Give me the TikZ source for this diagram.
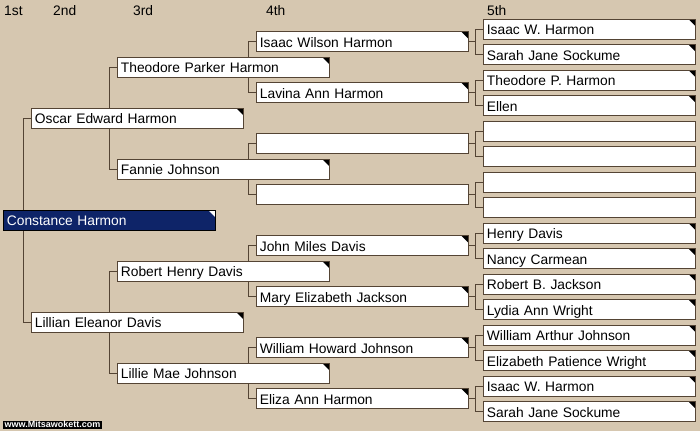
\documentclass[tikz,border=0pt]{standalone}
\usepackage{fontspec}
\setmainfont{Liberation Sans}
\definecolor{bgtan}{RGB}{214,199,176}
\definecolor{linkbrown}{RGB}{84,68,52}
\definecolor{selnavy}{RGB}{14,36,104}
\pgfdeclarelayer{back}
\pgfsetlayers{back,main}
\begin{document}
\begin{tikzpicture}[x=1pt, y=-1pt, font=\fontsize{13.8}{16}\selectfont,
  person/.style={draw=linkbrown, line width=0.8pt, fill=white, anchor=west, text width=205pt,
    inner xsep=3.5pt, inner ysep=3.5pt, text height=12pt, text depth=1pt, align=left},
  tagged/.style={person, path picture={\fill[#1] ([xshift=-7pt]path picture bounding box.north east)
    -- (path picture bounding box.north east) -- ([yshift=-7pt]path picture bounding box.north east) -- cycle;}},
  tagged/.default=black,
  link/.style={draw=linkbrown, line width=0.8pt},
  gen/.style={anchor=base west, inner sep=0pt}]
\useasboundingbox (0,0) rectangle (700,431);
\begin{pgfonlayer}{back}
\fill[bgtan] (0,0) rectangle (700,431);
\end{pgfonlayer}
% generation headings
\node[gen] (g1) at (4,15) {1st};
\node[gen] (g2) at (53,15) {2nd};
\node[gen] (g3) at (133,15) {3rd};
\node[gen] (g4) at (266,15) {4th};
\node[gen] (g5) at (487,15) {5th};
% 1st and 2nd
\node[tagged=white, fill=selnavy, text=white, draw=black] (p1) at (3,220.25) {Constance Harmon};
\node[tagged] (p2) at (31,118.25) {Oscar Edward Harmon};
\node[tagged] (p3) at (31,322.25) {Lillian Eleanor Davis};
% 3rd
\node[tagged] (p4) at (117,67.25) {Theodore Parker Harmon};
\node[tagged] (p5) at (117,169.25) {Fannie Johnson};
\node[tagged] (p6) at (117,271.25) {Robert Henry Davis};
\node[tagged] (p7) at (117,373.25) {Lillie Mae Johnson};
% 4th
\node[tagged] (p8) at (256,41.75) {Isaac Wilson Harmon};
\node[tagged] (p9) at (256,92.75) {Lavina Ann Harmon};
\node[person] (p10) at (256,143.75) {};
\node[person] (p11) at (256,194.75) {};
\node[tagged] (p12) at (256,245.75) {John Miles Davis};
\node[tagged] (p13) at (256,296.75) {Mary Elizabeth Jackson};
\node[tagged] (p14) at (256,347.75) {William Howard Johnson};
\node[tagged] (p15) at (256,398.75) {Eliza Ann Harmon};
% 5th
\node[tagged] (p16) at (483,29) {Isaac W. Harmon};
\node[tagged] (p17) at (483,54.5) {Sarah Jane Sockume};
\node[tagged] (p18) at (483,80) {Theodore P. Harmon};
\node[tagged] (p19) at (483,105.5) {Ellen};
\node[person] (p20) at (483,131) {};
\node[person] (p21) at (483,156.5) {};
\node[person] (p22) at (483,182) {};
\node[person] (p23) at (483,207.5) {};
\node[tagged] (p24) at (483,233) {Henry Davis};
\node[tagged] (p25) at (483,258.5) {Nancy Carmean};
\node[tagged] (p26) at (483,284) {Robert B. Jackson};
\node[tagged] (p27) at (483,309.5) {Lydia Ann Wright};
\node[tagged] (p28) at (483,335) {William Arthur Johnson};
\node[tagged] (p29) at (483,360.5) {Elizabeth Patience Wright};
\node[tagged] (p30) at (483,386) {Isaac W. Harmon};
\node[tagged] (p31) at (483,411.5) {Sarah Jane Sockume};
% parent links, behind the boxes
\begin{pgfonlayer}{back}
\foreach \k in {1,...,15}{
  \pgfmathtruncatemacro\fa{2*\k}
  \pgfmathtruncatemacro\mo{2*\k+1}
  \draw[link] (p\k) -| ([xshift=-8pt]p\fa.west) -- (p\fa.west)
    ([xshift=-8pt]p\fa.west) |- (p\mo.west);
}
\end{pgfonlayer}
\node[fill=black, text=white, font=\bfseries\fontsize{9}{9}\selectfont, inner xsep=1.5pt, inner ysep=0.8pt,
  anchor=south west] (site) at (3,429) {www.Mitsawokett.com};
\end{tikzpicture}
\end{document}
